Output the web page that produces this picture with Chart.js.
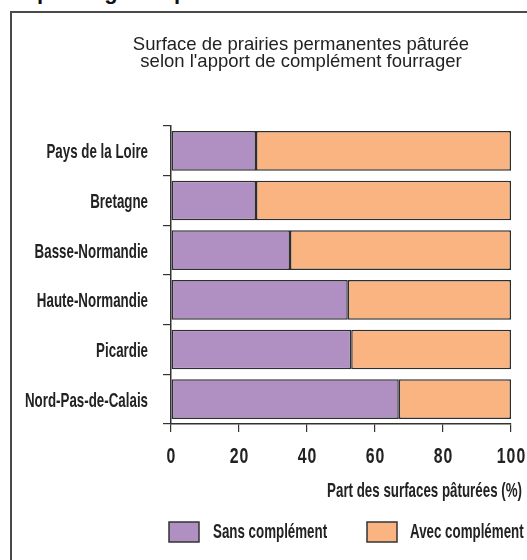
<!DOCTYPE html>
<html>
<head>
<meta charset="utf-8">
<script src="https://cdn.jsdelivr.net/npm/chart.js@4.4.0/dist/chart.umd.min.js"></script>
<style>
html,body{margin:0;padding:0;background:#fff;}
#wrap{position:relative;width:527px;height:560px;overflow:hidden;}
#frame{position:absolute;left:10px;top:11px;width:600px;height:600px;border-left:2px solid #4a4a4a;border-top:2px solid #4a4a4a;}
#head{position:absolute;left:4px;top:-21px;font:bold 22px "Liberation Sans",Arial,sans-serif;color:#111;white-space:nowrap;}
canvas{position:absolute;left:0;top:0;}
</style>
</head>
<body>
<div id="wrap">
<div id="head">du pâturage simple de surfaces</div>
<div id="frame"></div>
<canvas id="c" width="527" height="560"></canvas>
</div>
<script>
const categories = ["Pays de la Loire","Bretagne","Basse-Normandie","Haute-Normandie","Picardie","Nord-Pas-de-Calais"];
const sansComplement = [25, 25, 35, 52, 53, 67];
const avecComplement = [75, 75, 65, 48, 47, 33];
const xTicks = [0, 20, 40, 60, 80, 100];
const titleLines = ["Surface de prairies permanentes pâturée","selon l'apport de complément fourrager"];
const xAxisTitle = "Part des surfaces pâturées (%)";
const seriesNames = ["Sans complément","Avec complément"];

const INK = '#222';
const SX = 0.635; // horizontal condensing of the label face

function drawCond(ctx, text, x, y, align, size, ls, sx){
  ctx.save();
  sx = sx || SX;
  ctx.font = 'bold ' + size + 'px "Liberation Sans", Arial, sans-serif';
  ls = ls || 0;
  if ('letterSpacing' in ctx) ctx.letterSpacing = ls + 'px';
  const w = (ctx.measureText(text).width - ls) * sx;
  const left = align === 'right' ? x - w : (align === 'center' ? x - w/2 : x);
  ctx.translate(left, y);
  ctx.scale(sx, 1);
  ctx.fillStyle = INK;
  ctx.textAlign = 'left';
  ctx.textBaseline = 'alphabetic';
  ctx.fillText(text, 0, 0);
  ctx.restore();
}

const extras = {
  id:'extras',
  afterDraw(chart){
    const ctx = chart.ctx;
    const xs = chart.scales.x, ys = chart.scales.y;
    ctx.save();
    ctx.fillStyle = INK;
    ctx.font = '18.5px "Liberation Sans", Arial, sans-serif';
    ctx.textAlign = 'center';
    ctx.textBaseline = 'alphabetic';
    ctx.fillText(titleLines[0], 301, 49.5);
    ctx.fillText(titleLines[1], 301, 66.5);
    ctx.restore();
    chart.data.labels.forEach((lab, i) => {
      const y = ys.getPixelForTick(i);
      drawCond(ctx, lab, 148, y + 7.5, 'right', 21);
    });
    xs.ticks.forEach(t => {
      drawCond(ctx, String(t.value), xs.getPixelForValue(t.value), 463, 'center', 22, 1.5, 0.72);
    });
    drawCond(ctx, xAxisTitle, 522, 497, 'right', 21);
    const pos = [{bx:169, tx:213},{bx:367, tx:410}];
    chart.data.datasets.forEach((d,i)=>{
      ctx.save();
      ctx.fillStyle = d.backgroundColor;
      ctx.fillRect(pos[i].bx, 522, 30, 20);
      ctx.strokeStyle = '#333';
      ctx.lineWidth = 1.5;
      ctx.strokeRect(pos[i].bx, 522, 30, 20);
      ctx.restore();
      drawCond(ctx, d.label, pos[i].tx, 538, 'left', 21);
    });
  }
};

new Chart(document.getElementById('c'), {
  type:'bar',
  data:{
    labels:categories,
    datasets:[
      {label:seriesNames[0], data:sansComplement, backgroundColor:'#b08fc2', borderColor:'#2e2e2e', borderWidth:1.5, borderSkipped:false, categoryPercentage:0.8, barPercentage:1},
      {label:seriesNames[1], data:avecComplement, backgroundColor:'#f9b482', borderColor:'#2e2e2e', borderWidth:1.5, borderSkipped:false, categoryPercentage:0.8, barPercentage:1}
    ]
  },
  options:{
    indexAxis:'y',
    responsive:false,
    animation:false,
    layout:{padding:{left:0, top:126, right:16, bottom:0}},
    plugins:{legend:{display:false}, title:{display:false}, tooltip:{enabled:false}},
    scales:{
      x:{
        stacked:true, min:0, max:100,
        afterBuildTicks(s){ s.ticks = xTicks.map(v=>({value:v})); },
        afterFit(s){ s.height = 136; },
        border:{display:true, color:'#333', width:1.5},
        grid:{drawOnChartArea:false, drawTicks:true, tickLength:8, color:'#333', lineWidth:1.2},
        ticks:{display:false}
      },
      y:{
        stacked:true,
        afterFit(s){ s.width = 171; },
        border:{display:true, color:'#333', width:1.5},
        grid:{offset:true, drawOnChartArea:false, drawTicks:true, tickLength:8, color:'#333', lineWidth:1.2},
        ticks:{display:false}
      }
    }
  },
  plugins:[extras]
});
</script>
</body>
</html>
